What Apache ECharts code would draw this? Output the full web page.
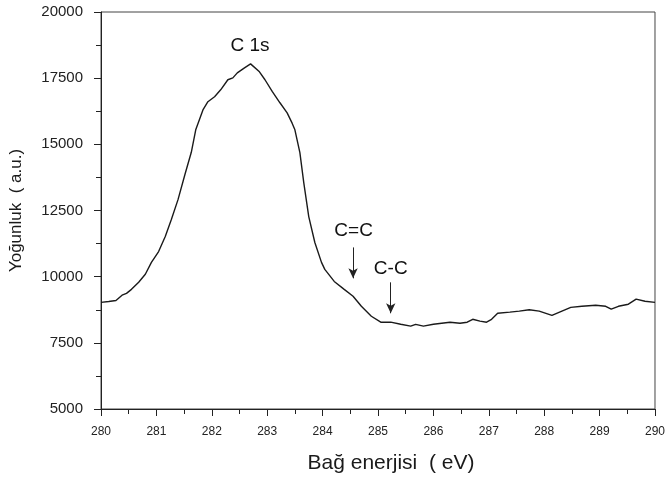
<!DOCTYPE html>
<html>
<head>
<meta charset="utf-8">
<script src="https://cdn.jsdelivr.net/npm/echarts@6/dist/echarts.min.js"></script>
<style>html,body{margin:0;padding:0;background:#fff}#c{width:668px;height:479px}</style>
</head>
<body>
<div id="c"></div>
<script>
var energy = [280.00,280.14,280.27,280.38,280.46,280.55,280.68,280.80,280.91,281.04,281.16,281.27,281.39,281.52,281.63,281.71,281.84,281.93,282.05,282.16,282.29,282.38,282.46,282.59,282.70,282.86,282.96,283.09,283.23,283.36,283.45,283.50,283.59,283.66,283.75,283.86,283.98,284.04,284.21,284.39,284.55,284.70,284.88,285.05,285.23,285.41,285.59,285.68,285.82,286.00,286.30,286.48,286.61,286.71,286.84,286.96,287.05,287.16,287.38,287.55,287.73,287.91,288.14,288.32,288.48,288.68,288.93,289.11,289.21,289.34,289.52,289.66,289.82,290.00];
var intensity = [9030,9060,9100,9300,9370,9520,9790,10090,10540,10950,11520,12160,12910,13900,14700,15550,16300,16610,16800,17060,17440,17510,17700,17890,18040,17740,17440,17000,16570,16190,15800,15550,14690,13555,12270,11290,10540,10275,9820,9520,9260,8880,8505,8280,8280,8200,8130,8200,8130,8200,8280,8240,8280,8390,8320,8280,8390,8620,8660,8700,8750,8700,8540,8700,8840,8880,8920,8880,8770,8880,8960,9150,9070,9030];
var labelNames = ['C 1s','C=C','C-C'];
var labelX = [282.69, 284.56, 285.23];
var labelY = [18720, 11727, 10314];
var arrowX = [284.55, 285.23];
var arrowTop = [11105, 9786];
var arrowBottom = [9937, 8617];
var xTicks = [280,281,282,283,284,285,286,287,288,289,290];
var yTicks = [5000,7500,10000,12500,15000,17500,20000];

var chart = echarts.init(document.getElementById('c'), null, {renderer:'canvas'});
var font = 'Liberation Sans, Arial, sans-serif';
var lineData = energy.map(function(e,i){return [e,intensity[i]];});
var textData = labelNames.map(function(n,i){return {value:[labelX[i],labelY[i]], name:n};});
var arrowLines = arrowX.map(function(x,i){return [{coord:[x,arrowTop[i]]},{coord:[x,arrowBottom[i]]}];});

chart.setOption({
  animation:false,
  backgroundColor:'#fff',
  grid:{left:97,right:11,top:12,bottom:69,show:true,borderColor:'#444',borderWidth:1,backgroundColor:'transparent'},
  xAxis:{
    type:'value',min:xTicks[0],max:xTicks[xTicks.length-1],interval:1,
    name:'Bağ enerjisi  ( eV)',nameLocation:'middle',nameGap:44,
    nameTextStyle:{fontFamily:font,fontSize:21,color:'#1a1a1a',padding:[0,0,0,26]},
    axisLine:{show:true,lineStyle:{color:'#222',width:1}},
    axisTick:{show:true,inside:false,length:7,lineStyle:{color:'#222'}},
    minorTick:{show:true,splitNumber:2,length:5,lineStyle:{color:'#222'}},
    splitLine:{show:false},
    axisLabel:{fontFamily:font,fontSize:12,color:'#222',margin:17}
  },
  yAxis:{
    type:'value',min:yTicks[0],max:yTicks[yTicks.length-1],interval:2500,
    name:'Yoğunluk  ( a.u.)',nameLocation:'middle',nameGap:76,nameRotate:90,
    nameTextStyle:{fontFamily:font,fontSize:17,color:'#1a1a1a'},
    axisLine:{show:true,lineStyle:{color:'#222',width:1}},
    axisTick:{show:true,inside:false,length:7,lineStyle:{color:'#222'}},
    minorTick:{show:true,splitNumber:2,length:5,lineStyle:{color:'#222'}},
    splitLine:{show:false},
    axisLabel:{fontFamily:font,fontSize:15,color:'#222',margin:18,formatter:function(v){return String(v);}}
  },
  series:[
    {type:'line',data:lineData,showSymbol:false,symbol:'none',smooth:false,
     lineStyle:{color:'#1a1a1a',width:1.4},
     markLine:{silent:true,symbol:['none','arrow'],symbolSize:[7,10],
       lineStyle:{color:'#222',width:1,type:'solid'},label:{show:false},data:arrowLines}
    },
    {type:'scatter',data:textData,symbolSize:0,silent:true,
     itemStyle:{color:'#111',opacity:1},
     label:{show:true,position:'inside',opacity:1,formatter:function(p){return p.name;},fontFamily:font,fontSize:19,color:'#111',textBorderWidth:0,textShadowBlur:0}
    }
  ]
});
</script>
</body>
</html>
